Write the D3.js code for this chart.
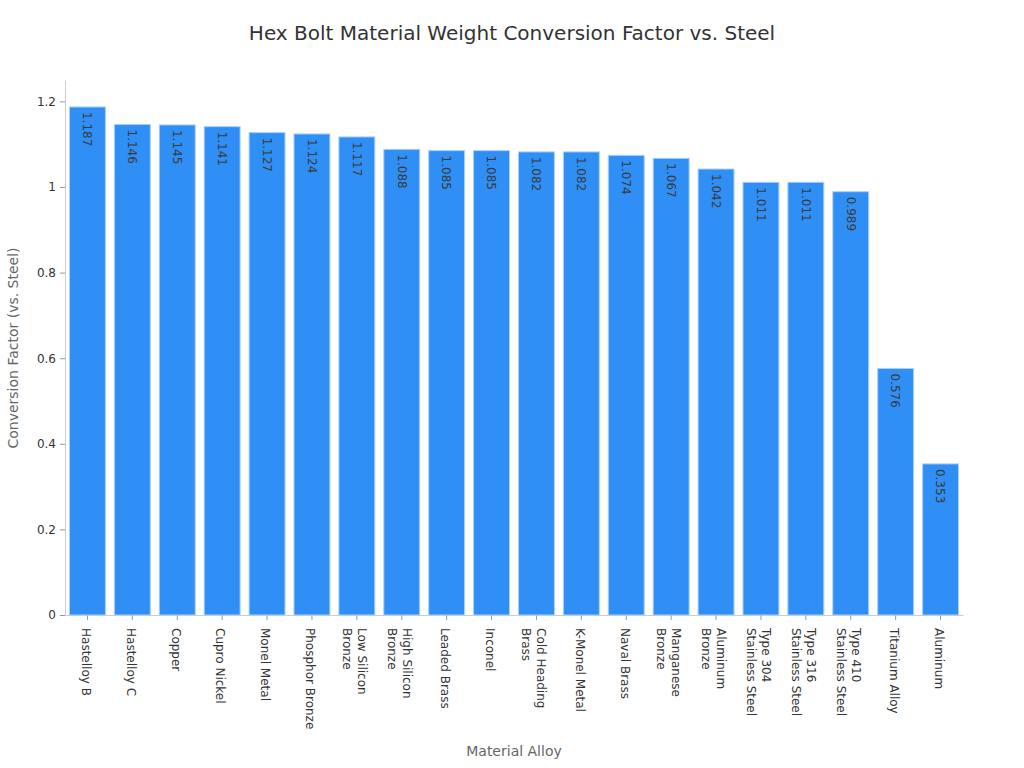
<!DOCTYPE html>
<html>
<head>
<meta charset="utf-8">
<script src="https://cdn.jsdelivr.net/npm/d3@7"></script>
<style>
  body { margin: 0; background: #fff; }
  text { font-family: "DejaVu Sans", sans-serif; }
</style>
</head>
<body>
<svg width="1024" height="768"></svg>
<script>
var materials = [
  "Hastelloy B", "Hastelloy C", "Copper", "Cupro Nickel", "Monel Metal",
  "Phosphor Bronze", "Low Silicon\nBronze", "High Silicon\nBronze", "Leaded Brass",
  "Inconel", "Cold Heading\nBrass", "K-Monel Metal", "Naval Brass",
  "Manganese\nBronze", "Aluminum\nBronze", "Type 304\nStainless Steel",
  "Type 316\nStainless Steel", "Type 410\nStainless Steel", "Titanium Alloy", "Aluminum"
];
var factors = [
  1.187, 1.146, 1.145, 1.141, 1.127, 1.124, 1.117, 1.088, 1.085, 1.085,
  1.082, 1.082, 1.074, 1.067, 1.042, 1.011, 1.011, 0.989, 0.576, 0.353
];
var yTicks = [0, 0.2, 0.4, 0.6, 0.8, 1, 1.2];

var svg = d3.select("svg");
var plotLeft = 65, plotRight = 963, plotTop = 80, plotBottom = 615;

var x = d3.scaleBand().domain(materials).range([plotLeft, plotRight]).paddingInner(0.2).paddingOuter(0.1);
var y = d3.scaleLinear().domain([0, 1.25]).range([plotBottom, plotTop]);

svg.append("text")
  .attr("x", 512).attr("y", 40)
  .attr("text-anchor", "middle")
  .attr("font-size", 20)
  .attr("fill", "#333")
  .text("Hex Bolt Material Weight Conversion Factor vs. Steel");

// y axis
var yAxis = svg.append("g")
  .attr("transform", "translate(" + plotLeft + ",0)")
  .call(d3.axisLeft(y).tickValues(yTicks).tickSize(5).tickSizeOuter(0).tickPadding(4).tickFormat(d3.format("~g")));
yAxis.select(".domain").attr("stroke", "#ccc");
yAxis.selectAll(".tick line").attr("stroke", "#999");
yAxis.selectAll(".tick text").attr("font-size", 12).attr("fill", "#333").style("font-family", "DejaVu Sans");

// x axis
var xAxis = svg.append("g")
  .attr("transform", "translate(0," + plotBottom + ")")
  .call(d3.axisBottom(x).tickSize(5).tickSizeOuter(0).tickFormat(""));
xAxis.select(".domain").attr("stroke", "#ccc");
xAxis.selectAll(".tick line").attr("stroke", "#999");

xAxis.selectAll(".tick").each(function(d) {
  var lines = d.split("\n");
  var t = d3.select(this).append("text")
    .attr("transform", "translate(0,13) rotate(90)")
    .attr("font-size", 12)
    .attr("fill", "#333")
    .attr("text-anchor", "start");
  var lh = 15;
  var off = lines.length > 1 ? -5 : 1.5;
  lines.forEach(function(l, i) {
    t.append("tspan")
      .attr("x", 0)
      .attr("y", off + i * lh)
      .attr("dy", "0.35em")
      .text(l);
  });
});

// bars
svg.selectAll("rect.bar")
  .data(factors)
  .enter()
  .append("rect")
  .attr("class", "bar")
  .attr("x", function(d, i) { return x(materials[i]); })
  .attr("y", function(d) { return y(d); })
  .attr("width", x.bandwidth())
  .attr("height", function(d) { return y(0) - y(d); })
  .attr("fill", "#2f8ff5")
  .attr("stroke", "#a9d0fb")
  .attr("stroke-width", 1);

// value labels
svg.selectAll("text.val")
  .data(factors)
  .enter()
  .append("text")
  .attr("class", "val")
  .attr("transform", function(d, i) {
    return "translate(" + (x(materials[i]) + x.bandwidth() / 2) + "," + (y(d) + 5) + ") rotate(90)";
  })
  .attr("dy", "0.35em")
  .attr("font-size", 12)
  .attr("fill", "#3a3a3a")
  .text(function(d) { return d3.format(".3f")(d); });

// axis titles
svg.append("text")
  .attr("x", 514).attr("y", 756)
  .attr("text-anchor", "middle")
  .attr("font-size", 14)
  .attr("fill", "#666")
  .text("Material Alloy");

svg.append("text")
  .attr("transform", "translate(18,348) rotate(-90)")
  .attr("text-anchor", "middle")
  .attr("font-size", 14)
  .attr("fill", "#666")
  .text("Conversion Factor (vs. Steel)");
</script>
</body>
</html>
